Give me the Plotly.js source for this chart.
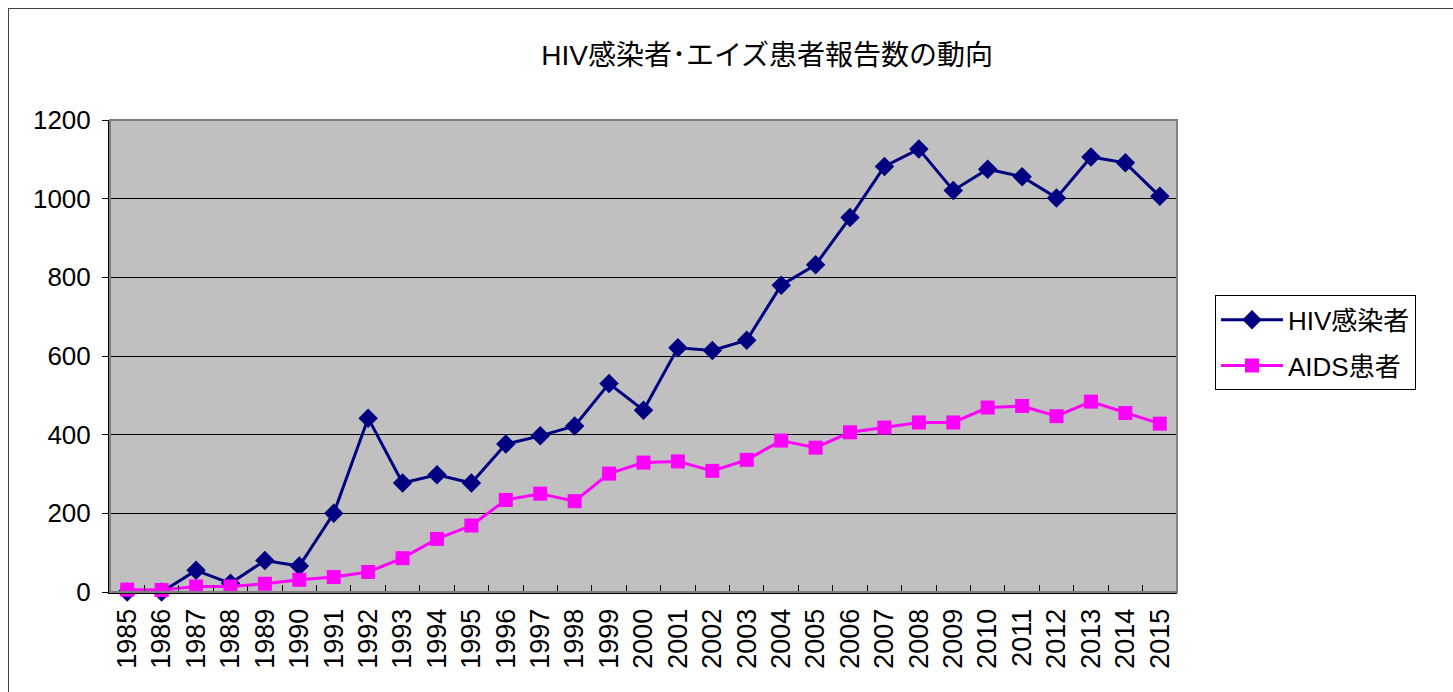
<!DOCTYPE html>
<html>
<head>
<meta charset="utf-8">
<script src="https://cdn.plot.ly/plotly-3.0.1.min.js"></script>
<style>
html,body{margin:0;padding:0;background:#fff;overflow:hidden;}
#chart{width:1453px;height:692px;position:absolute;left:0;top:0;}
#frame{position:absolute;left:8px;top:8px;width:1600px;height:800px;border:1px solid #444;pointer-events:none;}
</style>
</head>
<body>
<div id="chart"></div>
<div id="frame"></div>
<script>
const years = ["1985","1986","1987","1988","1989","1990","1991","1992","1993","1994","1995","1996","1997","1998","1999","2000","2001","2002","2003","2004","2005","2006","2007","2008","2009","2010","2011","2012","2013","2014","2015"];
const hiv = [0,0,55,22,80,66,200,442,277,298,277,376,397,422,530,462,621,614,640,780,832,952,1082,1126,1021,1075,1056,1002,1106,1091,1006];
const aids = [6,5,14,14,21,31,38,51,86,135,169,234,250,231,301,329,332,308,336,385,367,406,418,431,431,469,473,447,484,455,428];
const titleText = "HIV感染者･エイズ患者報告数の動向";
const hivName = "HIV感染者";
const aidsName = "AIDS患者";

const fontFam = "'Liberation Sans', 'Noto Sans CJK JP', Arial, sans-serif";

const traces = [
  {x: years, y: hiv, name: hivName, type: 'scatter', mode: 'lines+markers',
   legendgroup: 'hiv', cliponaxis: false,
   line: {color: '#000080', width: 3},
   marker: {symbol: 'diamond', size: 15, color: '#000080'}},
  {x: years, y: aids, name: aidsName, type: 'scatter', mode: 'lines+markers',
   legendgroup: 'aids', cliponaxis: false,
   line: {color: '#FF00FF', width: 3},
   marker: {symbol: 'square', size: 14, color: '#FF00FF'}}
];

const layout = {
  width: 1453, height: 692,
  margin: {l: 110, r: 276, t: 120, b: 100, pad: 0},
  paper_bgcolor: '#ffffff',
  plot_bgcolor: '#C0C0C0',
  font: {family: fontFam, color: '#000', size: 26},
  title: {text: titleText, x: 0.528, xanchor: 'center', y: 0.92, yanchor: 'middle',
          font: {family: fontFam, size: 28, color: '#000'}},
  xaxis: {type: 'category', range: [-0.5, years.length - 0.5], tickson: 'boundaries',
          ticks: 'inside', ticklen: 7, tickwidth: 1,
          tickcolor: '#000', tickangle: -90, showgrid: false, zeroline: false,
          showline: true, linecolor: '#000', linewidth: 2, mirror: false,
          ticklabelstandoff: 4,
          tickfont: {size: 27, family: fontFam}, automargin: false, fixedrange: true},
  yaxis: {range: [0, 1200], dtick: 200, tick0: 0, ticks: 'outside', ticklen: 6,
          tickcolor: '#000', showgrid: true, gridcolor: '#000', gridwidth: 1,
          zeroline: false, showline: true, linecolor: '#000', linewidth: 2, mirror: false,
          ticklabelstandoff: 6,
          tickfont: {size: 26, family: fontFam}, automargin: false, fixedrange: true},
  shapes: [
    {type: 'rect', xref: 'paper', yref: 'paper', x0: 0, x1: 1, y0: 0, y1: 1,
     line: {color: '#808080', width: 2}, layer: 'above'}
  ],
  showlegend: true,
  legend: {x: 1.0356, xanchor: 'left', y: 0.528, yanchor: 'middle',
           bordercolor: '#000', borderwidth: 1, bgcolor: '#fff',
           traceorder: 'grouped', tracegroupgap: 9,
           font: {size: 26, family: fontFam}, itemwidth: 62}
};

Plotly.newPlot('chart', traces, layout, {displayModeBar: false, staticPlot: true});
</script>
</body>
</html>
